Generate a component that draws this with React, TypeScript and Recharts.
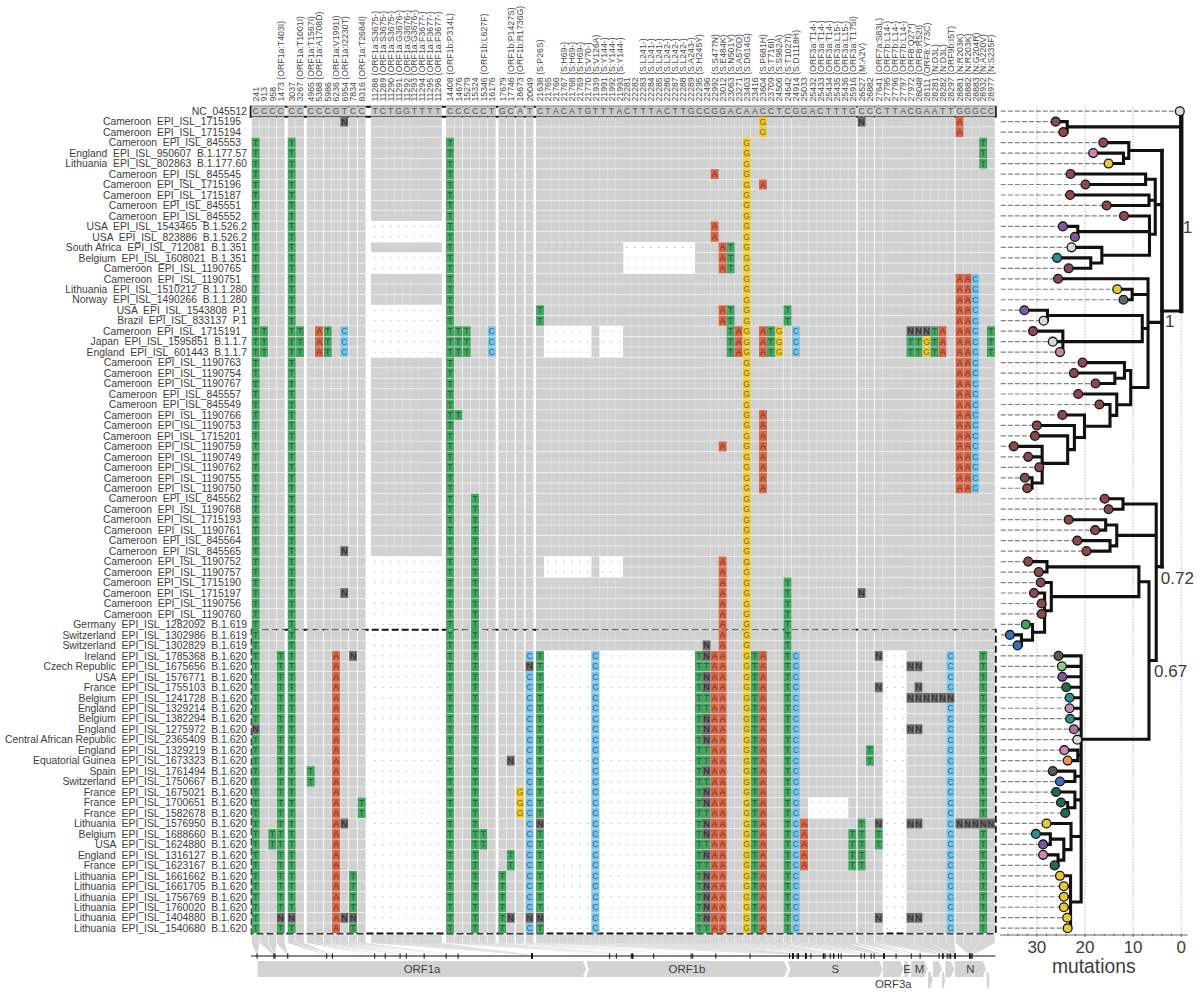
import React from 'react';
import {
  ComposedChart, ScatterChart, Scatter, Line, XAxis, YAxis, ReferenceArea, ReferenceLine,
} from 'recharts';

/* ---------- samples (rows) ---------- */
const sampleCountries = ['', 'Cameroon', 'Cameroon', 'Cameroon', 'England', 'Lithuania', 'Cameroon', 'Cameroon', 'Cameroon', 'Cameroon', 'Cameroon', 'USA', 'USA', 'South Africa', 'Belgium', 'Cameroon', 'Cameroon', 'Lithuania', 'Norway', 'USA', 'Brazil', 'Cameroon', 'Japan', 'England', 'Cameroon', 'Cameroon', 'Cameroon', 'Cameroon', 'Cameroon', 'Cameroon', 'Cameroon', 'Cameroon', 'Cameroon', 'Cameroon', 'Cameroon', 'Cameroon', 'Cameroon', 'Cameroon', 'Cameroon', 'Cameroon', 'Cameroon', 'Cameroon', 'Cameroon', 'Cameroon', 'Cameroon', 'Cameroon', 'Cameroon', 'Cameroon', 'Cameroon', 'Germany', 'Switzerland', 'Switzerland', 'Ireland', 'Czech Republic', 'USA', 'France', 'Belgium', 'England', 'Belgium', 'England', 'Central African Republic', 'England', 'Equatorial Guinea', 'Spain', 'Switzerland', 'France', 'France', 'France', 'Lithuania', 'Belgium', 'USA', 'England', 'France', 'Lithuania', 'Lithuania', 'Lithuania', 'Lithuania', 'Lithuania', 'Lithuania'];
const sampleIds = ['NC_045512', '1715195', '1715194', '845553', '950607', '802863', '845545', '1715196', '1715187', '845551', '845552', '1543465', '823886', '712081', '1608021', '1190765', '1190751', '1510212', '1490266', '1543808', '833137', '1715191', '1595851', '601443', '1190763', '1190754', '1190767', '845557', '845549', '1190766', '1190753', '1715201', '1190759', '1190749', '1190762', '1190755', '1190750', '845562', '1190768', '1715193', '1190761', '845564', '845565', '1190752', '1190757', '1715190', '1715197', '1190756', '1190760', '1282092', '1302986', '1302829', '1785368', '1675656', '1576771', '1755103', '1241728', '1329214', '1382294', '1275972', '2365409', '1329219', '1673323', '1761494', '1750667', '1675021', '1700651', '1582678', '1576950', '1688660', '1624880', '1316127', '1623167', '1661662', '1661705', '1756769', '1760020', '1404880', '1540680'];
const lineageRuns: [string, number, number][] = [
  ['B.1.177.57', 4, 4], ['B.1.177.60', 5, 5], ['B.1.526.2', 11, 12], ['B.1.351', 13, 14], ['B.1.1.280', 17, 18],
  ['P.1', 19, 20], ['B.1.1.7', 22, 23], ['B.1.619', 49, 51], ['B.1.620', 52, 78],
];

/* ---------- alignment columns ---------- */
const positions = [241, 913, 958, 1473, 3037, 3267, 4965, 5388, 5986, 6236, 6954, 7834, 8316, 11288, 11289, 11290, 11291, 11292, 11293, 11294, 11295, 11296, 14408, 14676, 15279, 15324, 15346, 16176, 17679, 17746, 18673, 20049, 21638, 21765, 21766, 21767, 21768, 21769, 21770, 21939, 21991, 21992, 21993, 22281, 22282, 22283, 22284, 22285, 22286, 22287, 22288, 22289, 22295, 22496, 22992, 23012, 23063, 23271, 23403, 23416, 23604, 23709, 24506, 24642, 24914, 25033, 25432, 25433, 25434, 25435, 25436, 25916, 26527, 26882, 27641, 27795, 27796, 27797, 27972, 28048, 28111, 28281, 28282, 28297, 28881, 28882, 28883, 28932, 28977];
const referenceBases = 'CCCCCCCCCGTCCTCTGGTTTTCCCCCTGCATCTACATGTTTACTTTACTTGCCGGACAACCTCGGACTTTGCCCTTACGAATTGGGCC';
const annotations: Record<number, string> = {
  1473: 'ORF1a:T403I', 3267: 'ORF1a:T1001I', 4965: 'ORF1a:T1567I', 5388: 'ORF1a:A1708D', 6236: 'ORF1a:V1991I', 6954: 'ORF1a:I2230T', 8316: 'ORF1a:T2684I',
  11288: 'ORF1a:S3675-', 11289: 'ORF1a:S3675-', 11290: 'ORF1a:S3675-', 11291: 'ORF1a:G3676-', 11292: 'ORF1a:G3676-', 11293: 'ORF1a:G3676-', 11294: 'ORF1a:F3677-', 11295: 'ORF1a:F3677-', 11296: 'ORF1a:F3677-',
  14408: 'ORF1b:P314L', 15346: 'ORF1b:L627F', 17746: 'ORF1b:P1427S', 18673: 'ORF1b:R1736G', 21638: 'S:P26S',
  21767: 'S:H69-', 21768: 'S:H69-', 21769: 'S:H69-', 21770: 'S:V70-', 21939: 'S:V126A', 21991: 'S:Y144-', 21992: 'S:Y144-', 21993: 'S:Y144-',
  22283: 'S:L241-', 22284: 'S:L241-', 22285: 'S:L241-', 22286: 'S:L242-', 22287: 'S:L242-', 22288: 'S:L242-', 22289: 'S:A243-', 22295: 'S:H245Y',
  22992: 'S:S477N', 23012: 'S:E484K', 23063: 'S:N501Y', 23271: 'S:A570D', 23403: 'S:D614G', 23604: 'S:P681H', 23709: 'S:T716I', 24506: 'S:S982A', 24642: 'S:T1027I', 24914: 'S:D1118H',
  25432: 'ORF3a:T14-', 25433: 'ORF3a:T14-', 25434: 'ORF3a:T14-', 25435: 'ORF3a:L15-', 25436: 'ORF3a:L15-', 25916: 'ORF3a:T175I', 26527: 'M:A2V',
  27641: 'ORF7a:S83L', 27795: 'ORF7b:L14-', 27796: 'ORF7b:L14-', 27797: 'ORF7b:L14-', 27972: 'ORF8:Q27*', 28048: 'ORF8:R52I', 28111: 'ORF8:Y73C',
  28281: 'N:D3L', 28282: 'N:D3L', 28297: 'ORF9b:I5T', 28881: 'N:R203K', 28882: 'N:R203K', 28883: 'N:G204R', 28932: 'N:A220V', 28977: 'N:S235F',
};

/* ---------- base calls that differ from the reference: [position, base, rows] ---------- */
const calls: [number, string, string][] = [
  [241, 'T', '3-58,60-78'], [241, 'N', '59'], [913, 'T', '21-23'], [958, 'T', '69-70'],
  [1473, 'T', '52-76,78'], [1473, 'N', '77'], [3037, 'T', '3-76,78'], [3037, 'N', '77'], [3267, 'T', '21-23'],
  [4965, 'T', '63-64'], [5388, 'A', '21-23'], [5986, 'T', '21-23'], [6236, 'A', '52-78'],
  [6954, 'C', '21-23'], [6954, 'N', '1,42,46,68,77'], [7834, 'N', '52,77'], [7834, 'T', '73-76,78'], [8316, 'T', '66-67'],
  [14408, 'T', '3-78'], [14676, 'T', '21-23,29'], [15279, 'T', '21-23'], [15324, 'T', '37-78'], [15346, 'T', '69-70'], [16176, 'C', '21-23'],
  [17679, 'T', '73-78'], [17746, 'T', '71-72'], [17746, 'N', '62,77'], [18673, 'G', '65-67'],
  [20049, 'C', '52,54-76,78'], [20049, 'N', '53,77'], [21638, 'T', '19-20,52-67,69-76,78'], [21638, 'N', '68,77'], [21939, 'C', '52-78'],
  [22295, 'T', '52-78'], [22496, 'T', '53,56,57,61,62,64,67,70,72,78'], [22496, 'N', '51,52,54,55,58,59,60,63,65,66,68,69,71,73-77'],
  [22992, 'A', '6,11-12,52-78'], [23012, 'A', '13-15,19-20,32,43-78'], [23063, 'T', '13-15,19-23'], [23271, 'A', '21-23'],
  [23403, 'G', '3-78'], [23416, 'T', '52-78'], [23604, 'G', '1-2'], [23604, 'A', '7,21-23,29-36,52-78'], [23709, 'T', '21-23'],
  [24506, 'G', '21-23'], [24642, 'T', '19-20,45-78'], [24914, 'C', '21-23,52-78'], [25033, 'A', '68-72'],
  [25916, 'T', '69-72'], [26527, 'T', '68-72'], [26527, 'N', '1,46'], [26882, 'T', '61-62'], [27641, 'N', '52,55,68,77'], [27641, 'T', '69-70'],
  [27972, 'N', '21,53,56,59,68,77'], [27972, 'T', '22-23'], [28048, 'N', '21,53,55,56,59,68,77'], [28048, 'T', '22-23'],
  [28111, 'N', '21,56'], [28111, 'G', '22-23'], [28281, 'T', '21-23'], [28281, 'N', '56'], [28282, 'A', '21-23'], [28282, 'N', '56'],
  [28297, 'C', '52-55,57-78'], [28297, 'N', '56'],
  [28881, 'A', '1-2,16-36'], [28881, 'N', '68'], [28882, 'A', '16-36'], [28882, 'N', '68'], [28883, 'C', '16-36'], [28883, 'N', '68'],
  [28932, 'T', '3-5,52-67,69-78'], [28932, 'N', '68'], [28977, 'T', '21-23'], [28977, 'N', '68'],
];
const deletions: [number[], string][] = [
  [[11288, 11289, 11290, 11291, 11292, 11293, 11294, 11295, 11296], '11-12,14-15,19-23,43-78'],
  [[21765, 21766, 21767, 21768, 21769, 21770, 21991, 21992, 21993], '21-23,43-44,52-78'],
  [[22281, 22282, 22283, 22284, 22285, 22286, 22287, 22288, 22289], '13-15,52-78'],
  [[25432, 25433, 25434, 25435, 25436], '66-67'],
  [[27795, 27796, 27797], '52-78'],
];

/* ---------- genome map ---------- */
const GENOME_LENGTH = 29903;
const genes: [string, number, number, number, boolean][] = [
  ['ORF1a', 266, 13468, 0, true], ['ORF1b', 13468, 21555, 0, true], ['S', 21563, 25384, 0, true], ['ORF3a', 25393, 26220, 0, true],
  ['E', 26245, 26472, 0, true], ['M', 26523, 27191, 0, true], ['ORF6', 27202, 27387, 1, false], ['ORF7a', 27394, 27759, 0, false],
  ['ORF7b', 27756, 27887, 1, false], ['ORF8', 27894, 28259, 0, false], ['N', 28274, 29533, 0, true], ['ORF10', 29558, 29674, 1, false],
];

/* ---------- tree ---------- */
type TreeNode = { mut: number; row?: number; color?: string; kids?: TreeNode[]; y?: number };
const T = (row: number, mut: number, color = 'maroon'): TreeNode => ({ row, mut, color });
const N = (mut: number, ...kids: TreeNode[]): TreeNode => ({ mut, kids });
const tipPalette: Record<string, string> = {
  maroon: '#8a4852', pink: '#c88bb0', yellow: '#e9c92f', purple: '#7c58a6', light: '#d9d9d9', teal: '#2b8f96', slate: '#5c6b62',
  green: '#3fa45b', blue: '#3b6fb6', grey: '#5a5a5a', lime: '#8dce7f', forest: '#1f6b55', mauve: '#b0749a', orange: '#f28e4f',
};
const tree = N(0,
  T(0, 0.3, 'light'),
  N(23.7, T(1, 26.1), T(2, 24.5)),
  N(4.0,
    N(10.9, T(3, 16.2), N(12.0, T(4, 18.3, 'pink'), T(5, 15.1, 'yellow'))),
    N(5.4,
      N(7.4, T(6, 23.0), T(7, 19.9)),
      N(6.7, T(8, 23.1), T(9, 15.5)),
      N(6.6, T(10, 11.9), N(21.5, T(11, 24.6, 'purple'), T(12, 22.1, 'purple')),
        N(16.5, T(13, 22.8, 'light'), N(18.8, T(14, 25.8, 'teal'), T(15, 23.4))))),
    N(6.9,
      T(16, 25.6),
      N(10.2, T(17, 13.3, 'yellow'), T(18, 12.0, 'slate')),
      N(8.1, N(27.8, T(19, 32.6, 'purple'), T(20, 28.6, 'light')), N(24.6, T(21, 30.8), T(22, 26.7, 'light'), T(23, 25.2, 'pink'))),
      N(10.5,
        N(11.8, T(24, 20.5), N(13.8, T(25, 22.3), T(26, 17.8))),
        N(13.4, T(27, 21.4), N(14.8, T(28, 17.0), N(20.1, T(29, 24.7), N(22.2, T(30, 30.0), N(23.6, T(31, 30.4),
          N(28.9, T(32, 34.8), T(33, 31.8), T(34, 29.5), N(31.0, T(35, 32.5), T(36, 32.0))))))))),
    ),
    N(5.2,
      N(12.1, T(37, 15.9), T(38, 15.1)),
      N(13.4, N(15.7, T(39, 23.4), T(40, 17.9)), N(14.8, T(41, 21.6), T(42, 19.7))),
      N(6.7,
        N(8.8,
          N(27.9, T(43, 31.8), T(44, 29.6)),
          N(27.0, T(45, 29.2), N(28.4, T(46, 30.6), T(47, 29.0), T(48, 29.0),
            N(30.9, T(49, 32.3, 'green'), N(33.2, T(50, 35.6, 'blue'), T(51, 34.0, 'blue')))))),
        N(20.8,
          T(52, 25.5, 'grey'), T(53, 24.8, 'lime'), T(54, 24.7, 'purple'), T(55, 23.9, 'forest'), T(56, 23.2, 'teal'), T(57, 23.2, 'pink'),
          T(58, 23.1, 'teal'), T(59, 22.3, 'mauve'), T(60, 21.6, 'light'),
          N(21.5, T(61, 24.3, 'pink'), T(62, 23.6, 'orange')),
          N(22.1, T(63, 26.7, 'grey'), T(64, 25.2, 'blue')),
          N(22.1, T(65, 26.0, 'forest'), N(23.6, T(66, 25.0, 'forest'), T(67, 24.1, 'forest'))),
          N(22.9, T(68, 28.0, 'yellow'), N(24.4, N(27.2, T(69, 30.2, 'teal'), T(70, 28.7, 'purple')), N(25.6, T(71, 28.7, 'pink'), T(72, 26.3, 'forest')))),
          N(23.0, T(73, 25.2, 'yellow'), T(74, 24.4, 'yellow'), T(75, 24.4, 'yellow'), T(76, 24.4, 'yellow'), T(77, 23.7, 'yellow'), T(78, 23.6, 'yellow')),
        ),
      ),
    ),
  ),
);
const supportLabels: [string, number, number][] = [['1', -1.3, 11.1], ['1', 2.4, 20], ['0.72', 0.8, 44.6], ['0.67', 2.2, 53.4]];
const mutationTicks = [0, 2, 4, 6, 8, 10, 12, 14, 16, 18, 20, 22, 24, 26, 28, 30, 32, 34, 36];
const mutationGrid = [0, 10, 20, 30];

/* ---------- layout & style (separate from the data) ---------- */
const FONT = '"Liberation Sans", Arial, sans-serif';
const TEXT = '#3c3c3c';
const columnSteps = [5.7, 8.3, 8.3, 8.4, 11, 8.3, 10.7, 8.3, 8.7, 8.3, 8.3, 8.7, 8.7, 13.3, 7.85, 7.85, 7.85, 7.85, 7.85, 7.85, 7.85, 7.85, 12.2, 8.3, 8.4, 8.3, 8.3, 8.4, 10.6, 8.4, 9.3, 9.5, 10.5, 7.8, 8, 8, 8, 8, 8, 7.6, 8, 8, 8, 7.6, 8, 8, 8, 8, 8, 8, 8, 8, 8, 7.6, 8, 8, 8, 8, 8.1, 8.2, 8, 8, 8.2, 8.4, 8.4, 8.1, 8.3, 8, 8, 8, 8, 8, 9.3, 8.3, 8.8, 8.3, 8, 8, 7.5, 8, 8, 8, 8, 8, 9, 8, 7.8, 7.9, 7.7];
const CELL_W = 7.9;
const CELL_H = 9.9;
const ALIGN_LEFT = 250;
const ALIGN_WIDTH = 746;
const GENOME_LEFT = 251.1;
const GENOME_RIGHT = 995.3;
const baseFill: Record<string, string> = { T: '#46a463', A: '#d4684b', G: '#ebcb3a', C: '#7cc3e6', N: '#6a6a6a' };
const baseInk: Record<string, string> = { T: '#1b5e35', A: '#7a2c18', G: '#7f6a0c', C: '#236e96', N: '#1f1f1f' };

/* ---------- derived tables ---------- */
const parseRows = (spec: string): number[] => {
  const out: number[] = [];
  spec.split(',').forEach((part) => {
    const [a, b] = part.split('-').map(Number);
    for (let r = a; r <= (b ?? a); r += 1) out.push(r);
  });
  return out;
};
const slots: number[] = [];
columnSteps.forEach((s, i) => slots.push((i ? slots[i - 1] : 0) + s));
const slotOf = new Map(positions.map((p, i) => [p, slots[i]]));
const headerLabels = positions.map((p) => (annotations[p] ? `${p} (${annotations[p]})` : `${p}`));
const rows = sampleIds.map((_, i) => i);
const lineageOf = (row: number) => {
  const run = lineageRuns.find(([, a, b]) => row >= a && row <= b);
  return run ? run[0] : '';
};
const deletedCells = new Set<string>();
const deletionData: { x: number; y: number }[] = [];
deletions.forEach(([cols, spec]) => cols.forEach((p) => parseRows(spec).forEach((r) => {
  deletedCells.add(`${p}:${r}`);
  deletionData.push({ x: slotOf.get(p) as number, y: r });
})));
const backgroundData: { x: number; y: number }[] = [];
positions.forEach((p) => rows.slice(1).forEach((r) => {
  if (!deletedCells.has(`${p}:${r}`)) backgroundData.push({ x: slotOf.get(p) as number, y: r });
}));
const referenceData = positions.map((p, i) => ({ x: slots[i], y: 0, base: referenceBases[i] }));
const callData = calls.flatMap(([p, base, spec]) => parseRows(spec).map((r) => ({ x: slotOf.get(p) as number, y: r, base })));
const linkData = positions.map((p, i) => ({ x: slots[i], y: 78, pos: p }));
const genomeTicks = positions.map((p) => ({ x: p, y: 0 }));

const tips: TreeNode[] = [];
const edges: { x: number; y: number | null }[] = [];
const trunkEdges: { x: number; y: number | null }[] = [];
const rootEdges: { x: number; y: number | null }[] = [];
const layoutNode = (n: TreeNode): number => {
  if (n.kids) {
    const ys = n.kids.map(layoutNode);
    n.y = ys.reduce((a, b) => a + b, 0) / ys.length;
  } else {
    n.y = n.row as number;
    tips.push(n);
  }
  return n.y;
};
layoutNode(tree);
const pushSeg = (arr: typeof edges, x1: number, y1: number, x2: number, y2: number) => {
  arr.push({ x: x1, y: y1 }, { x: x2, y: y2 }, { x: x2, y: null });
};
const walk = (n: TreeNode, depth: number) => {
  if (!n.kids) return;
  const ys = n.kids.map((k) => k.y as number);
  const spine = depth === 0 ? rootEdges : depth === 1 && n.kids.length === 4 ? trunkEdges : edges;
  pushSeg(spine, n.mut, Math.min(...ys), n.mut, Math.max(...ys));
  n.kids.forEach((k) => {
    pushSeg(edges, n.mut, k.y as number, k.mut, k.y as number);
    walk(k, depth + 1);
  });
};
walk(tree, 0);
const tipLineData: { x: number; y: number | null }[] = [];
tips.forEach((t) => pushSeg(tipLineData, 37.5, t.y as number, t.mut, t.y as number));
const tipData = tips.map((t) => ({ x: t.mut, y: t.y, color: tipPalette[t.color as string] }));
const supportData = supportLabels.map(([label, x, y]) => ({ label, x, y }));

/* ---------- mark shapes ---------- */
const BackgroundCell = (p: any) => (
  <rect x={p.cx - CELL_W / 2} y={p.cy - CELL_H / 2} width={CELL_W} height={CELL_H} fill="#d1d1d1" />
);
const DeletionCell = (p: any) => (
  <rect x={p.cx - 0.8} y={p.cy - 0.35} width={1.6} height={0.7} fill="#a8a8a8" />
);
const ReferenceCell = (p: any) => (
  <g>
    <rect x={p.cx - 4.2} y={p.cy - 5} width={8.4} height={10} fill="#c9c9c9" />
    <text x={p.cx} y={p.cy + 3} textAnchor="middle" fontSize={8.6} fontFamily={FONT} fill="#555">{p.payload.base}</text>
  </g>
);
const CallCell = (p: any) => {
  const b = p.payload.base;
  return (
    <g>
      <rect x={p.cx - CELL_W / 2} y={p.cy - CELL_H / 2} width={CELL_W} height={CELL_H} fill={baseFill[b]} />
      <text x={p.cx} y={p.cy + 3} textAnchor="middle" fontSize={8.6} fontFamily={FONT} fill={baseInk[b]}>{b}</text>
    </g>
  );
};
const genomePx = (pos: number) => GENOME_LEFT + (pos / GENOME_LENGTH) * (GENOME_RIGHT - GENOME_LEFT);
const LinkBand = (p: any) => {
  const x = p.cx;
  const tx = genomePx(p.payload.pos);
  const d = `M${x - 3.9},935 L${x + 3.9},935 L${x + 3.9},943 L${tx + 0.4},955 L${tx - 0.4},955 L${x - 3.9},943 Z`;
  return <path d={d} fill="#d6d6d6" />;
};
const GenomeTick = (p: any) => <line x1={p.cx} x2={p.cx} y1={953.5} y2={958.8} stroke="#111" strokeWidth={1} />;
const TipDot = (p: any) => <circle cx={p.cx} cy={p.cy} r={4.4} fill={p.payload.color} stroke="#151515" strokeWidth={1.3} />;
const SupportText = (p: any) => (
  <text x={p.cx} y={p.cy + 6} textAnchor="middle" fontSize={17} fontFamily={FONT} fill={TEXT}>{p.payload.label}</text>
);
const GeneShape = (g: { name: string; labelled: boolean; lane: number }) => (p: any) => {
  const { x, y, width: w, height: h } = p;
  const tip = Math.min(3.5, w * 0.45);
  const mid = y + h / 2;
  const notch = g.name === 'ORF1b' || g.name === 'S' ? 2.5 : 0;
  const d = `M${x},${y} L${x + w - tip},${y} L${x + w},${mid} L${x + w - tip},${y + h} L${x},${y + h} L${x + notch},${mid} Z`;
  const lower = g.name === 'ORF3a';
  return (
    <g>
      <path d={d} fill="#d3d3d3" />
      {g.labelled && (
        <text x={x + w / 2} y={lower ? y + h + 11 : mid + 4} textAnchor="middle" fontSize={11.4} fontFamily={FONT} fill={TEXT}>{g.name}</text>
      )}
    </g>
  );
};

/* ---------- axis ticks ---------- */
const HeaderTick = (p: any) => (
  <text transform={`translate(${p.x + 3.2},101.6) rotate(-90)`} fontSize={8.75} fontFamily={FONT} fill="#4a4a4a">{headerLabels[p.index]}</text>
);
const RowTick = (p: any) => {
  const row = p.payload.value;
  const lineage = lineageOf(row);
  const text = row === 0 ? sampleIds[0] : `${sampleCountries[row]}  EPI_ISL_${sampleIds[row]}${lineage ? `  ${lineage}` : ''}`;
  return (
    <text x={row === 0 || lineage ? 247 : 241} y={p.y + 3.7} textAnchor="end" fontSize={10.35} fontFamily={FONT} fill={TEXT} style={{ whiteSpace: 'pre' }}>{text}</text>
  );
};
const MutationTick = (p: any) => {
  const v = p.payload.value;
  const major = v % 10 === 0;
  return (
    <g>
      <line x1={p.x} x2={p.x} y1={933.5} y2={major ? 937 : 936.2} stroke="#555" strokeWidth={0.8} />
      {major && <text x={p.x} y={952.5} textAnchor="middle" fontSize={17} fontFamily={FONT} fill={TEXT}>{v}</text>}
    </g>
  );
};

const layer: React.CSSProperties = { position: 'absolute', left: 0, top: 0 };

export default function App() {
  return (
    <div style={{ position: 'absolute', left: 0, top: 0, width: 1200, height: 996, background: '#fff', overflow: 'hidden' }}>
      {/* alignment */}
      <div style={layer}>
        <ScatterChart width={1200} height={996} margin={{ top: 0, right: 1200 - ALIGN_LEFT - ALIGN_WIDTH, bottom: 62.5, left: 0 }}>
          <XAxis type="number" dataKey="x" orientation="top" height={105.96} domain={[0, ALIGN_WIDTH]} ticks={slots} interval={0} axisLine={false} tickLine={false} tick={HeaderTick} />
          <YAxis type="number" dataKey="y" width={ALIGN_LEFT} domain={[-0.5, 78.5]} reversed ticks={rows} interval={0} axisLine={false} tickLine={false} tick={RowTick} />
          <Scatter data={linkData} shape={LinkBand} isAnimationActive={false} />
          <Scatter data={backgroundData} shape={BackgroundCell} isAnimationActive={false} />
          <Scatter data={deletionData} shape={DeletionCell} isAnimationActive={false} />
          <Scatter data={referenceData} shape={ReferenceCell} isAnimationActive={false} />
          <Scatter data={callData} shape={CallCell} isAnimationActive={false} />
          <ReferenceArea x1={0.7} x2={745.7} y1={-0.43} y2={0.525} fill="none" stroke="#111" strokeWidth={2} ifOverflow="visible" />
          <ReferenceArea x1={1.7} x2={745.7} y1={49.5} y2={78.5} fill="none" stroke="#111" strokeWidth={2} strokeDasharray="7 3" ifOverflow="visible" />
        </ScatterChart>
      </div>

      {/* genome map */}
      <div style={layer}>
        <ComposedChart width={1200} height={996} margin={{ top: 955, right: 1200 - GENOME_RIGHT, bottom: 0, left: GENOME_LEFT }}>
          <XAxis type="number" dataKey="x" orientation="top" height={1} domain={[0, GENOME_LENGTH]} tick={false} tickLine={false} axisLine={{ stroke: '#111', strokeWidth: 1 }} />
          <YAxis type="number" dataKey="y" hide domain={[0, 40]} reversed />
          <Scatter data={genomeTicks} shape={GenomeTick} isAnimationActive={false} />
          {genes.map(([name, start, end, lane, labelled]) => (
            <ReferenceArea key={name} x1={start} x2={end} y1={lane ? 16 : 5} y2={lane ? 32 : 21} ifOverflow="visible"
              shape={GeneShape({ name, labelled, lane })} />
          ))}
        </ComposedChart>
      </div>

      {/* tree */}
      <div style={layer}>
        <ComposedChart width={1200} height={996} margin={{ top: 105.96, right: 12.5, bottom: 0, left: 1000 }}>
          <XAxis type="number" dataKey="x" reversed domain={[-1, 37.66]} height={61} ticks={mutationTicks} interval={0} tickLine={false}
            axisLine={{ stroke: '#666', strokeWidth: 1 }} tick={MutationTick}
            label={{ value: 'mutations', position: 'insideBottom', offset: 23, fontSize: 19.3, fontFamily: FONT, fill: TEXT }} />
          <YAxis type="number" dataKey="y" hide domain={[-0.5, 78.65]} reversed />
          {mutationGrid.map((v) => (
            <ReferenceLine key={v} x={v} stroke="#bdbdbd" strokeWidth={1} strokeDasharray="1.5 1.5" />
          ))}
          <Line data={tipLineData} dataKey="y" stroke="#808080" strokeWidth={1.2} strokeDasharray="5 2" dot={false} activeDot={false} isAnimationActive={false} legendType="none" />
          <Line data={edges} dataKey="y" stroke="#111" strokeWidth={3.1} strokeLinecap="square" dot={false} activeDot={false} isAnimationActive={false} legendType="none" />
          <Line data={trunkEdges} dataKey="y" stroke="#111" strokeWidth={3.7} strokeLinecap="square" dot={false} activeDot={false} isAnimationActive={false} legendType="none" />
          <Line data={rootEdges} dataKey="y" stroke="#111" strokeWidth={4.4} strokeLinecap="square" dot={false} activeDot={false} isAnimationActive={false} legendType="none" />
          <Scatter data={tipData} shape={TipDot} isAnimationActive={false} />
          <Scatter data={supportData} shape={SupportText} isAnimationActive={false} />
        </ComposedChart>
      </div>
    </div>
  );
}
